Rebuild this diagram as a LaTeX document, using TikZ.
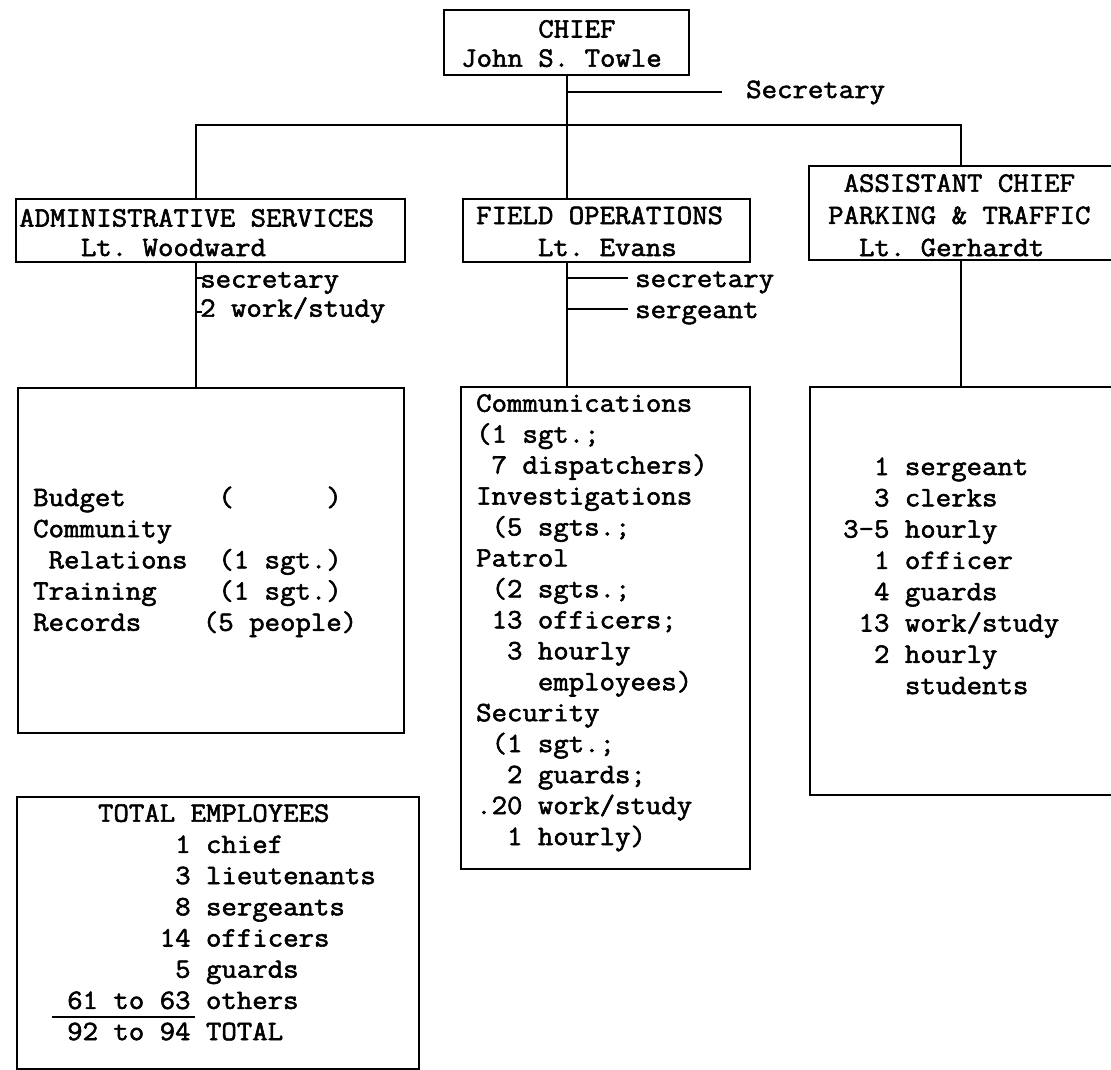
\documentclass[tikz,border=0pt]{standalone}
\usepackage{fontspec}
% typewriter face for every label
\newfontfamily\tw[FakeStretch=1.07,FakeBold=2]{Latin Modern Mono}
\newlength\cw
\AtBeginDocument{\settowidth\cw{\tw\fontsize{28pt}{31pt}\selectfont M}}
% \gap{n}: n blank typewriter cells
\newcommand\gap[1]{\hspace*{#1\cw}}
% \ml[skip]{line\\line...}: lines stacked with a fixed pitch, base = first baseline
\newcommand\ml[2][31pt]{\vtop{\baselineskip=#1\lineskiplimit=-20pt\lineskip=0pt%
  \def\\{\egroup\hbox\bgroup}\hbox\bgroup#2\egroup}}

\tikzset{
  frame/.style={draw, line width=1.9pt, inner sep=0pt, anchor=north west},
  txt/.style={anchor=base west, inner sep=0pt,
    font=\tw\fontsize{28pt}{31pt}\selectfont\frenchspacing},
  link/.style={line width=1.9pt},
}

\begin{document}
\begin{tikzpicture}[x=1pt, y=-1pt]
\useasboundingbox[fill=white] (0,0) rectangle (1111,1070);
\clip (0,0) rectangle (1111,1070);

% boxes
\node[frame, minimum width=245pt, minimum height=65pt]  (chief)    at (443,9)   {};
\node[frame, minimum width=389pt, minimum height=63pt]  (admin)    at (15,198)  {};
\node[frame, minimum width=287pt, minimum height=63pt]  (field)    at (462,198) {};
\node[frame, minimum width=330pt, minimum height=94pt]  (asst)     at (808,165) {};
\node[frame, minimum width=386pt, minimum height=345pt] (adminlow) at (17,387)  {};
\node[frame, minimum width=289pt, minimum height=482pt] (fieldlow) at (460,386) {};
\node[frame, minimum width=330pt, minimum height=408pt] (asstlow)  at (809,386) {};
\node[frame, minimum width=402pt, minimum height=272pt] (total)    at (16,796)  {};

% junction points of the connectors
\coordinate (spine) at (567,0);
\coordinate (jl) at (196,125);
\coordinate (jr) at (961,125);
\coordinate (secl) at (722,92);
\coordinate (fsec) at (628,278);
\coordinate (fsgt) at (628,309);
\coordinate (asec) at (202,278);
\coordinate (awks) at (202,312);
\coordinate (ul1) at (52,1017);
\coordinate (ul2) at (195,1017);

% connectors
\draw[link] (chief.south -| spine) -- (field.north -| spine);
\draw[link] (spine |- secl) -- (secl);
\draw[link] (admin.north -| jl) |- (jr) -- (asst.north -| jr);
\draw[link] (admin.south -| jl) -- (adminlow.north -| jl);
\draw[link] (jl |- asec) -- (asec);
\draw[link] (jl |- awks) -- (awks);
\draw[link] (field.south -| spine) -- (fieldlow.north -| spine);
\draw[link] (spine |- fsec) -- (fsec);
\draw[link] (spine |- fsgt) -- (fsgt);
\draw[link] (asst.south -| jr) -- (asstlow.north -| jr);
\draw[link] (ul1) -- (ul2);

% labels
\node[txt] (chieft) at (461,37.5) {\ml[29.2pt]{\gap{5}CHIEF\\John S. Towle}};
\node[txt] (secy) at (746,98) {Secretary};
\node[txt] (admint) at (19,226.5) {\ml[29.5pt]{ADMINISTRATIVE SERVICES\\\gap{4}Lt. Woodward}};
\node[txt] (adminst) at (200,287.5) {\ml[29.2pt]{secretary\\2 work/study}};
\node[txt] (fieldt) at (476,224) {\ml[32pt]{FIELD OPERATIONS\\\gap{4}Lt. Evans}};
\node[txt] (fieldst) at (635,287) {\ml[31pt]{secretary\\sergeant}};
\node[txt] (asstt) at (828,191.7) {\ml[32.2pt]{\gap{1}ASSISTANT CHIEF\\PARKING \& TRAFFIC\\\gap{2}Lt. Gerhardt}};
\node[txt] (adminlowt) at (33,506) {\ml[31.2pt]{Budget\gap{6}(\gap{6})\\Community\\\gap{1}Relations\gap{2}(1 sgt.)\\Training\gap{4}(1 sgt.)\\Records\gap{4}(5 people)}};
\node[txt] (fieldlowt) at (476,411.7) {\ml[30.95pt]{Communications\\(1 sgt.;\\\gap{1}7 dispatchers)\\Investigations\\\gap{1}(5 sgts.;\\Patrol\\\gap{1}(2 sgts.;\\\gap{1}13 officers;\\\gap{2}3 hourly\\\gap{4}employees)\\Security\\\gap{1}(1 sgt.;\\\gap{2}2 guards;\\\gap{1}\llap{.}20 work/study\\\gap{2}1 hourly)}};
\node[txt] (asstlowt) at (843,475) {\ml[31.3pt]{\gap{2}1 sergeant\\\gap{2}3 clerks\\3-5 hourly\\\gap{2}1 officer\\\gap{2}4 guards\\\gap{1}13 work/study\\\gap{2}2 hourly\\\gap{4}students}};
\node[txt] (totalt) at (67,821.7) {\ml[31.2pt]{\gap{2}TOTAL EMPLOYEES\\\gap{7}1 chief\\\gap{7}3 lieutenants\\\gap{7}8 sergeants\\\gap{6}14 officers\\\gap{7}5 guards\\61 to 63 others\\92 to 94 TOTAL}};
\end{tikzpicture}
\end{document}
